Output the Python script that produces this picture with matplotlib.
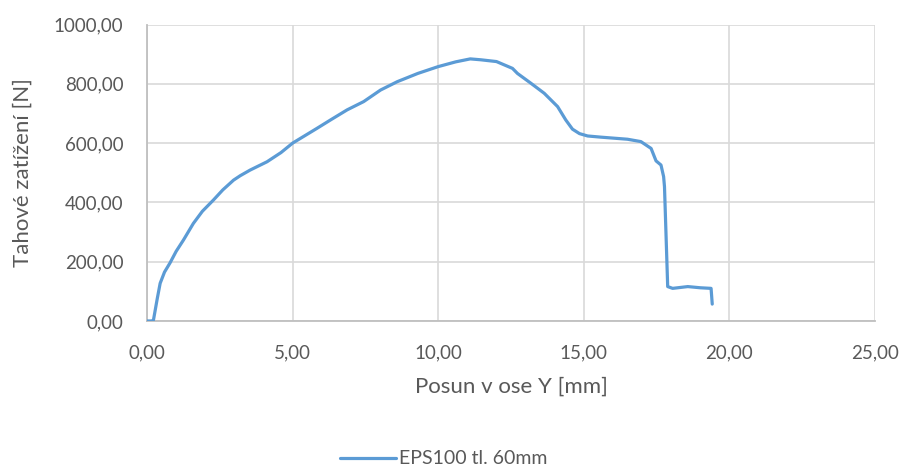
import matplotlib
matplotlib.use("Agg")
import matplotlib.pyplot as plt
from matplotlib.ticker import FuncFormatter, MultipleLocator

# tensile test, EPS100 specimen 60 mm thick
displacement = [0.00, 0.16, 0.22, 0.35, 0.45, 0.60, 0.79, 1.00, 1.25, 1.59, 1.90,
                2.28, 2.60, 2.97, 3.20, 3.54, 4.12, 4.60, 5.00, 5.84, 6.30, 6.87,
                7.44, 8.02, 8.59, 9.30, 10.00, 10.60, 11.10, 11.46, 12.00, 12.55,
                12.72, 13.18, 13.64, 14.10, 14.38, 14.61, 14.85, 15.13, 15.59,
                16.50, 16.96, 17.31, 17.48, 17.65, 17.74, 17.77, 17.82, 17.88,
                18.05, 18.57, 19.00, 19.37, 19.41]
load = [0, 0, 3, 75, 127, 165, 196, 235, 273, 329, 370,
        408, 442, 475, 490, 509, 537, 568, 600, 650, 678, 712,
        740, 779, 807, 835, 858, 874, 884, 881, 875, 852,
        835, 802, 768, 723, 678, 647, 632, 624, 620,
        613, 605, 582, 540, 526, 487, 453, 300, 116,
        110, 116, 112, 110, 57]

series_label = "EPS100 tl. 60mm"
x_label = "Posun v ose Y [mm]"
y_label = "Tahové zatížení [N]"

LINE = "#5B9BD5"
GRID = "#D9D9D9"
AXIS = "#BFBFBF"
TEXT = "#595959"

plt.rcParams["font.family"] = ["Lato", "DejaVu Sans"]

fig = plt.figure(figsize=(9.06, 4.73), dpi=100)
ax = fig.add_axes([0.1623, 0.3214, 0.8035, 0.6268])

ax.plot(displacement, load, color=LINE, linewidth=2.3, solid_joinstyle="round",
        solid_capstyle="round", label=series_label, zorder=3)

ax.set_xlim(0, 25)
ax.set_ylim(0, 1000)
ax.xaxis.set_major_locator(MultipleLocator(5))
ax.yaxis.set_major_locator(MultipleLocator(200))
comma = FuncFormatter(lambda v, _: f"{v:.2f}".replace(".", ","))
ax.xaxis.set_major_formatter(comma)
ax.yaxis.set_major_formatter(comma)

ax.grid(True, color=GRID, linewidth=1.2, zorder=0)
ax.set_axisbelow(True)
for side in ("top", "right"):
    ax.spines[side].set_visible(False)
for side in ("left", "bottom"):
    ax.spines[side].set_color(AXIS)
    ax.spines[side].set_linewidth(1.3)

ax.tick_params(axis="both", length=0, labelsize=13.5, colors=TEXT)
ax.tick_params(axis="y", pad=17)
ax.tick_params(axis="x", pad=17)

ax.set_xlabel(x_label, fontsize=16, color=TEXT, labelpad=11)
ax.set_ylabel(y_label, fontsize=16, color=TEXT, labelpad=15)

fig.legend(loc="lower center", bbox_to_anchor=(0.49, -0.025), frameon=False,
           fontsize=14, labelcolor=TEXT, handlelength=2.9, handletextpad=0.15)

fig.savefig("out.png", dpi=100, facecolor="white")
